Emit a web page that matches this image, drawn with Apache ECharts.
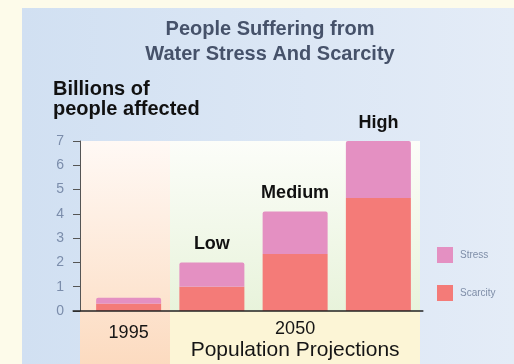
<!DOCTYPE html>
<html><head><meta charset="utf-8">
<script src="https://cdn.jsdelivr.net/npm/echarts@6/dist/echarts.min.js"></script>
<style>html,body{margin:0;padding:0;background:#fdfbea}#c{width:514px;height:364px}</style>
</head><body><div id="c"></div>
<script>
var categories = ['1995', 'Low', 'Medium', 'High'];
var scarcity = [0.3, 1.0, 2.35, 4.65];
var stress = [0.25, 1.0, 1.75, 2.35];
var barLabels = ['', 'Low', 'Medium', 'High'];
var axisLabels = ['1995', '', '2050', ''];
var groupSub = 'Population Projections';
var yTicks = [0, 1, 2, 3, 4, 5, 6, 7];

var FONT = '"Liberation Sans", Arial, sans-serif';
var chart = echarts.init(document.getElementById('c'), null, {renderer: 'canvas'});

var option = {
  animation: false,
  backgroundColor: '#fdfbea',
  textStyle: {fontFamily: FONT},
  grid: {left: 87, right: 94, top: 141, bottom: 53},
  legend: {
    orient: 'vertical', left: 437, top: 247, padding: 0,
    itemWidth: 16, itemHeight: 16, itemGap: 22,
    data: ['Stress', 'Scarcity'],
    icon: 'rect',
    textStyle: {fontSize: 10, color: '#7f8ea8', fontFamily: FONT, padding: [0, 0, 0, 2]}
  },
  xAxis: {
    type: 'category', data: categories,
    axisLine: {show: false}, axisTick: {show: false},
    axisLabel: {
      interval: 0, margin: 7,
      formatter: function (v, i) {
        if (i === 0) return '{a|' + axisLabels[0] + '}';
        if (i === 2) return '{b|' + axisLabels[2] + '}\n{c|' + groupSub + '}';
        return '';
      },
      rich: {
        a: {fontSize: 18, lineHeight: 24, color: '#151515', fontFamily: FONT, verticalAlign: 'bottom'},
        b: {fontSize: 18, lineHeight: 22, color: '#151515', fontFamily: FONT},
        c: {fontSize: 21, lineHeight: 21, color: '#151515', fontFamily: FONT}
      }
    }
  },
  yAxis: {
    type: 'value', min: 0, max: 7, interval: 1, offset: 7,
    axisLine: {show: true, lineStyle: {color: '#555', width: 1}},
    axisTick: {show: true, length: 7, lineStyle: {color: '#555'}},
    splitLine: {show: false},
    axisLabel: {margin: 16, fontSize: 14, color: '#7b8dab', fontFamily: FONT,
      formatter: function (v) { return yTicks.indexOf(v) >= 0 ? String(v) : ''; }}
  },
  series: [
    {name: 'Scarcity', type: 'bar', stack: 't', barWidth: 65, data: scarcity,
      itemStyle: {color: '#f47b78'}},
    {name: 'Stress', type: 'bar', stack: 't', barWidth: 65, data: stress,
      itemStyle: {color: '#e490c2', borderRadius: [2, 2, 0, 0]},
      label: {show: true, position: 'top', distance: 9,
        formatter: function (p) { return barLabels[p.dataIndex]; },
        fontSize: 18, fontWeight: 'bold', color: '#111', fontFamily: FONT}}
  ],
  graphic: [
    {type: 'rect', z: -10, shape: {x: 22, y: 8, width: 492, height: 356},
      style: {fill: new echarts.graphic.LinearGradient(0, 0, 1, 0, [
        {offset: 0, color: '#d1e0f2'}, {offset: 1, color: '#e4ecf7'}])}},
    {type: 'rect', z: -9, shape: {x: 80, y: 141, width: 90, height: 223},
      style: {fill: new echarts.graphic.LinearGradient(0, 0, 0, 1, [
        {offset: 0, color: '#fff9f5'}, {offset: 1, color: '#fcdbc0'}])}},
    {type: 'rect', z: -9, shape: {x: 170, y: 141, width: 250, height: 170},
      style: {fill: new echarts.graphic.LinearGradient(0, 0, 0, 1, [
        {offset: 0, color: '#fcfdf9'}, {offset: 1, color: '#e8f3db'}])}},
    {type: 'rect', z: -9, shape: {x: 170, y: 311, width: 250, height: 53},
      style: {fill: '#fcf5d6'}},
    {type: 'text', x: 270, y: 17, style: {text: 'People Suffering from\nWater Stress And Scarcity',
      font: 'bold 20px ' + FONT, fill: '#46526a', textAlign: 'center', lineHeight: 25}},
    {type: 'text', x: 53, y: 79, style: {text: 'Billions of\npeople affected',
      font: 'bold 20px ' + FONT, fill: '#111', textAlign: 'left', lineHeight: 20}}
  ]
};
chart.setOption(option);

var y0 = chart.convertToPixel({yAxisIndex: 0}, 0);
var xl = chart.convertToPixel({xAxisIndex: 0}, 0);
var xr = chart.convertToPixel({xAxisIndex: 0}, categories.length - 1);
var g = option.graphic.slice();
g.push({type: 'line', z: 10, shape: {x1: xl - 56, y1: y0, x2: xr + 45, y2: y0},
  style: {stroke: '#222', lineWidth: 1.5}});
chart.setOption({graphic: g});
</script></body></html>
